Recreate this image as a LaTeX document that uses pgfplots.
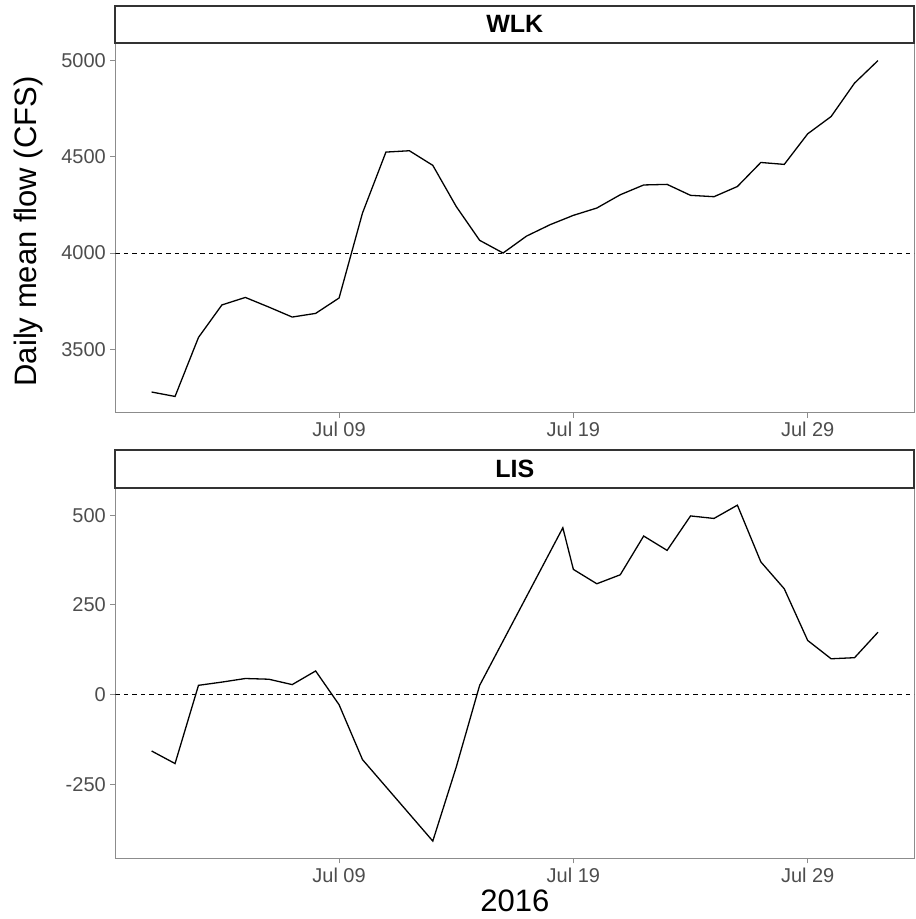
\documentclass[border=0pt]{standalone}
\usepackage{fontspec}
\setmainfont{Liberation Sans}
\usepackage{pgfplots}
\pgfplotsset{compat=1.18}
\definecolor{tickgray}{HTML}{4D4D4D}
\definecolor{framegray}{HTML}{8C8C8C}
\definecolor{stripgray}{HTML}{333333}

\pgfplotstableread{
day flow
1 3277
2 3254
3 3561
4 3730
5 3769
6 3719
7 3667
8 3686
9 3766
10 4208
11 4525
12 4532
13 4456
14 4242
15 4066
16 4000
17 4088
18 4147
19 4196
20 4234
21 4303
22 4354
23 4357
24 4300
25 4293
26 4346
27 4471
28 4461
29 4620
30 4710
31 4884
32 5001
}\wlk

\pgfplotstableread{
day flow
1 -157
2 -192
3 26
4 35
5 45
6 43
7 28
8 66
9 -28
10 -181
13 -408
14 -202
15 26
18.55 465
19 349
20 309
21 334
22 442
23 402
24 498
25 491
26 528
27 370
28 295
29 151
30 100
31 103
32 174
}\lis

\pgfplotsset{
  panel/.style={
    anchor=south west,
    width=799pt, height=370pt, scale only axis,
    xmin=-0.55, xmax=33.55,
    xtick={9,19,29}, xticklabels={Jul 09,Jul 19,Jul 29},
    axis line style={framegray, line width=1pt},
    tick style={framegray, line width=1pt},
    tick align=outside, major tick length=5pt,
    xtick pos=bottom, ytick pos=left,
    tick label style={font=\fontsize{20}{24}\selectfont, text=tickgray},
    /pgf/number format/assume math mode=true,
    xticklabel style={yshift=-1pt},
    yticklabel style={xshift=-1pt},
  }
}

\begin{document}
\begin{tikzpicture}
\path[use as bounding box] (0pt,0pt) rectangle (916pt,919pt);

\begin{axis}[panel, at={(115.3pt,506.3pt)},
  ymin=3169.5, ymax=5094,
  ytick={3500,4000,4500,5000}, yticklabels={3500,4000,4500,5000},
  ylabel={Daily mean flow (CFS)},
  ylabel style={font=\fontsize{31}{36}\selectfont, at={(axis description cs:-0.109,0.49)}, anchor=center},
]
\addplot[black, line width=1pt, dash pattern=on 4.5pt off 4pt] coordinates {(-0.55,4000) (33.55,4000)};
\addplot[black, line width=1.3pt] table[x=day, y=flow] {\wlk};
\end{axis}

\begin{axis}[panel, at={(115.3pt,60.7pt)},
  ymin=-456, ymax=575,
  ytick={-250,0,250,500}, yticklabels={-250,0,250,500},
  xlabel={2016},
  xlabel style={font=\fontsize{31}{36}\selectfont, at={(axis description cs:0.5,-0.114)}, anchor=center},
]
\addplot[black, line width=1pt, dash pattern=on 4.5pt off 4pt] coordinates {(-0.55,0) (33.55,0)};
\addplot[black, line width=1.3pt] table[x=day, y=flow] {\lis};
\end{axis}

\draw[stripgray, line width=1.8pt, fill=white] (115.3pt,876.3pt) rectangle (914.3pt,913pt);
\node[font=\bfseries\fontsize{25}{30}\selectfont] at (514.8pt,894.6pt) {WLK};
\draw[stripgray, line width=1.8pt, fill=white] (115.3pt,431.3pt) rectangle (914.3pt,469pt);
\node[font=\bfseries\fontsize{25}{30}\selectfont] at (514.8pt,450.1pt) {LIS};
\end{tikzpicture}
\end{document}
